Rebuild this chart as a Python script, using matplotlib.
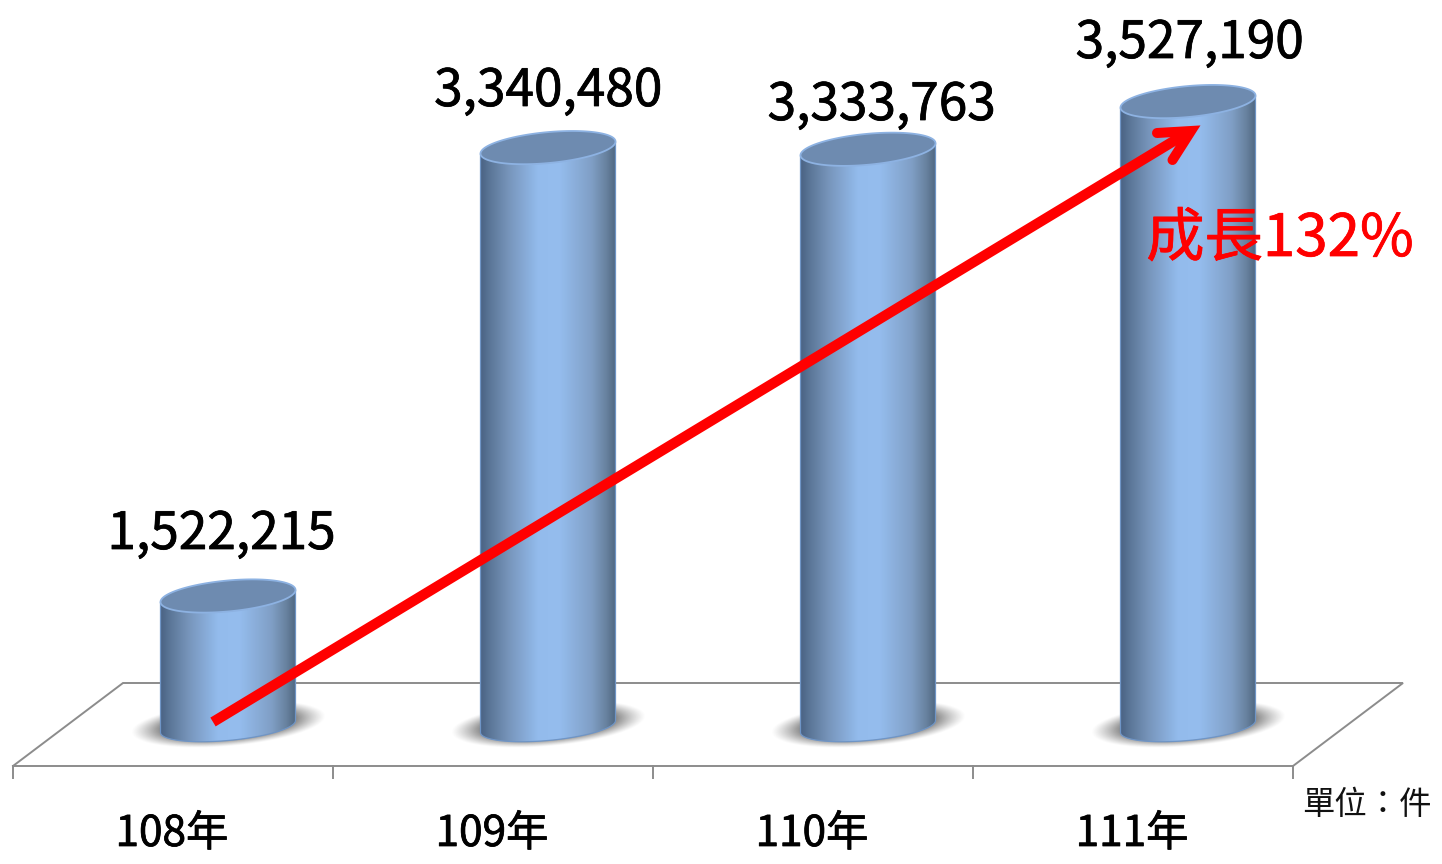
import numpy as np
import matplotlib
matplotlib.use("Agg")
import matplotlib.pyplot as plt
import matplotlib.patheffects as pe
from matplotlib.colors import LinearSegmentedColormap, to_rgb
from matplotlib.patches import Polygon

FONT = ['Noto Sans CJK TC', 'DejaVu Sans']
plt.rcParams['font.family'] = FONT

years = ['108年', '109年', '110年', '111年']
cases = [1522215, 3340480, 3333763, 3527190]
growth_label = '成長132%'
unit_label = '單位：件'

# layout constants (pixels in the 1442x864 canvas)
W, H = 1442, 864
CAT0, STEP = 173, 320      # pixel x of category 0, pixels per category
FLOOR_PY = 726.5           # pixel y of the floor value
FLOOR_VALUE = 993000
PX_PER_UNIT = 2.466e-4
DEPTH = 55 / STEP          # bars stand mid-depth on the 3D floor


def X(px):
    return (px - CAT0) / STEP


def Y(py):
    return FLOOR_VALUE + (FLOOR_PY - py) / PX_PER_UNIT


def heavier(color):
    return [pe.withStroke(linewidth=0.55, foreground=color)]


fig = plt.figure(figsize=(W / 100, H / 100), dpi=100, facecolor='white')
ax = fig.add_axes([0, 0, 1, 1])
ax.set_xlim(X(0), X(W))
ax.set_ylim(Y(H), Y(0))
ax.axis('off')

# floor
GREY = '#8c8c8c'
floor_x = [X(13), X(13 + STEP * 4), X(1403), X(123), X(13)]
floor_y = [Y(766), Y(766), Y(683), Y(683), Y(766)]
ax.plot(floor_x, floor_y, color=GREY, lw=1.4, zorder=1, solid_joinstyle='miter')
for i in range(len(years) + 1):
    ax.plot([i - 0.5, i - 0.5], [Y(766), Y(778)], color=GREY, lw=1.4, zorder=1)

# cylinders
cmap = LinearSegmentedColormap.from_list('cyl', [
    (0.00, '#4b6485'), (0.06, '#5a7596'), (0.20, '#7694ba'), (0.42, '#93bbec'),
    (0.58, '#95bdee'), (0.82, '#809fc6'), (0.93, '#68829f'), (1.00, '#4f6781')])
grad = np.linspace(0, 1, 256).reshape(1, -1)
half_w = 67.5 / STEP
shear = 6 / PX_PER_UNIT
minor_base = 14 / PX_PER_UNIT
minor_cap = 15.5 / PX_PER_UNIT

# soft shadow texture
sx, sy = np.meshgrid(np.linspace(-1.2, 1.2, 300), np.linspace(-1.4, 1.4, 160))
tilt = sy - 0.36 * sx
rr = np.sqrt(sx ** 2 + tilt ** 2)
alpha = 0.78 * np.clip((1.12 - rr) / 0.38, 0, 1) ** 1.2
sh = np.zeros(alpha.shape + (4,))
sh[..., :3] = to_rgb('#555555')
sh[..., 3] = alpha
SH_W, SH_H = 87, 20

for i, v in enumerate(cases):
    cx = i + DEPTH
    sh_cy = FLOOR_VALUE + 2.5 / PX_PER_UNIT
    ax.imshow(sh, extent=[cx - 1.2 * SH_W / STEP, cx + 1.2 * SH_W / STEP,
                          sh_cy - 1.4 * SH_H / PX_PER_UNIT,
                          sh_cy + 1.4 * SH_H / PX_PER_UNIT],
              origin='lower', aspect='auto', zorder=2, interpolation='bilinear')

    t = np.linspace(np.pi, 2 * np.pi, 80)
    bx = cx + half_w * np.cos(t)
    by = FLOOR_VALUE + shear * np.cos(t) + minor_base * np.sin(t)
    side = np.column_stack([
        np.r_[cx - half_w, bx, cx + half_w],
        np.r_[v - shear, by, v + shear]])
    im = ax.imshow(grad, cmap=cmap, extent=[cx - half_w, cx + half_w, FLOOR_VALUE - 2 * minor_base, v + 2 * minor_cap],
                   aspect='auto', zorder=3, interpolation='bilinear')
    outline = Polygon(side, closed=True, facecolor='none', edgecolor='#6f95c6', lw=0.9, zorder=3.2)
    ax.add_patch(outline)
    im.set_clip_path(outline)

    t = np.linspace(0, 2 * np.pi, 160)
    cap = np.column_stack([cx + half_w * np.cos(t), v + shear * np.cos(t) + minor_cap * np.sin(t)])
    ax.add_patch(Polygon(cap, closed=True, facecolor='#6e8bb0', edgecolor='#8db2e2', lw=1.3, zorder=3.4))

ax.set_xlim(X(0), X(W))
ax.set_ylim(Y(H), Y(0))

# value labels
label_px = [221.5, 548, 881.5, 1189.5]
label_base = [549, 106, 120, 58]
for v, px, py in zip(cases, label_px, label_base):
    ax.text(X(px), Y(py), f'{v:,}', ha='center', va='baseline', fontsize=37, color='black',
            path_effects=heavier('black'), zorder=6)

# category labels
for i, name in enumerate(years):
    ax.text(i - 0.003, Y(846), name, ha='center', va='baseline', fontsize=30.5, color='black',
            path_effects=heavier('black'), zorder=6)

ax.text(X(1366.5), Y(814), unit_label, ha='center', va='baseline', fontsize=23.3, color='#111111', zorder=6)

# growth arrow
RED = '#ff0000'
ax.plot([X(213), X(1187)], [Y(722), Y(133)], color=RED, lw=7.4, solid_capstyle='butt', zorder=5)
ax.plot([X(1157), X(1191), X(1172.5)], [Y(133), Y(131), Y(160)], color=RED, lw=7.2,
        solid_capstyle='round', solid_joinstyle='miter', zorder=5)
ax.text(X(1280), Y(256), growth_label, ha='center', va='baseline', fontsize=42, color=RED,
        path_effects=heavier(RED), zorder=6)

fig.savefig('out.png', dpi=100, facecolor='white')
